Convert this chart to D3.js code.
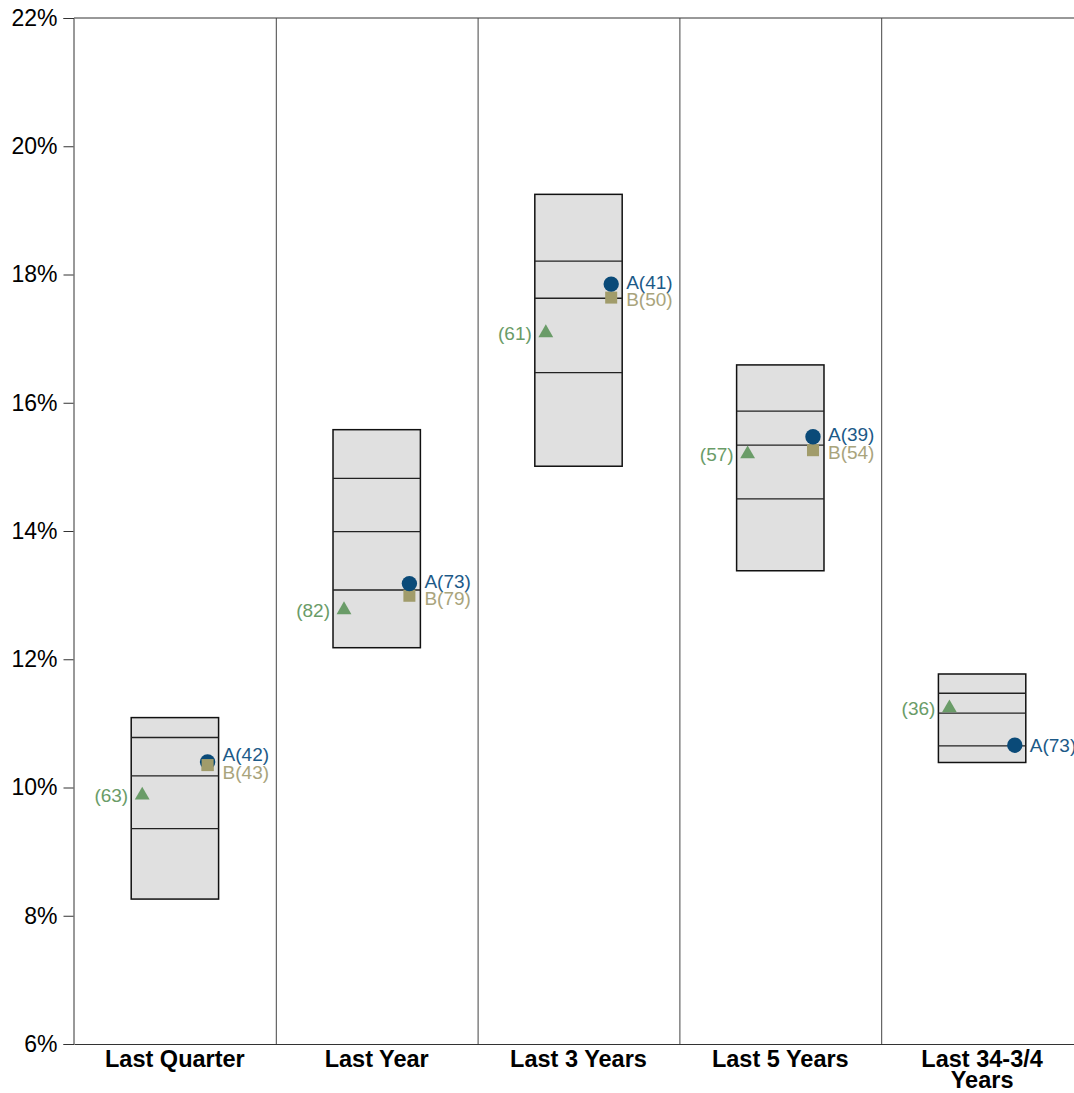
<!DOCTYPE html>
<html><head><meta charset="utf-8">
<script src="https://cdn.jsdelivr.net/npm/d3@7"></script>
<style>body{margin:0;background:#fff}svg{display:block;font-family:"Liberation Sans",Arial,sans-serif}</style>
</head><body><svg id="c" width="1074" height="1093"></svg>
<script>
const categories = ["Last Quarter","Last Year","Last 3 Years","Last 5 Years","Last 34-3/4 Years"];
const p95 = [11.09, 15.58, 19.25, 16.59, 11.77];
const p75 = [10.78, 14.82, 18.21, 15.87, 11.47];
const p50 = [10.18, 13.99, 17.63, 15.34, 11.16];
const p25 = [9.36, 13.08, 16.47, 14.50, 10.65];
const p05 = [8.26, 12.18, 15.01, 13.38, 10.39];
const seriesA = [10.40, 13.18, 17.85, 15.47, 10.66];
const rankA = [42, 73, 41, 39, 73];
const seriesB = [10.35, 12.99, 17.64, 15.26, null];
const rankB = [43, 79, 50, 54, null];
const seriesC = [9.88, 12.77, 17.09, 15.20, 11.24];
const rankC = [63, 82, 61, 57, 36];
const yTicks = [6, 8, 10, 12, 14, 16, 18, 20, 22];

const colA = "#0a4a78", colAt = "#1c5a88";
const colB = "#a19c6b", colBt = "#a9a47c";
const colC = "#6a9c68";

const svg = d3.select("#c");
const x = d3.scaleBand().domain(categories).range([74, 1083]).padding(0);
const y = d3.scaleLinear().domain([6, 22]).range([1044, 18]);
const bw = x.bandwidth();
const boxW = bw * 0.433;

// top border
svg.append("line").attr("x1", 74).attr("x2", 1083).attr("y1", y(22)).attr("y2", y(22))
  .attr("stroke", "#333").attr("stroke-width", 1);
// dividers
categories.slice(1).forEach(c => {
  svg.append("line").attr("x1", x(c)+0.5).attr("x2", x(c)+0.5).attr("y1", y(22)).attr("y2", y(6))
    .attr("stroke", "#444").attr("stroke-width", 1);
});

// boxes
categories.forEach((c, i) => {
  const cx = x(c) + bw/2;
  const g = svg.append("g");
  g.append("rect").attr("x", cx - boxW/2).attr("y", y(p95[i])).attr("width", boxW)
    .attr("height", y(p05[i]) - y(p95[i])).attr("fill", "#e0e0e0").attr("stroke", "#111").attr("stroke-width", 1.5);
  [p75[i], p50[i], p25[i]].forEach(v => {
    g.append("line").attr("x1", cx - boxW/2).attr("x2", cx + boxW/2).attr("y1", y(v)).attr("y2", y(v))
      .attr("stroke", "#222").attr("stroke-width", 1.3);
  });
});

// markers
categories.forEach((c, i) => {
  const cx = x(c) + bw/2;
  const xr = cx + boxW/2 - 11;
  const xl = cx - boxW/2 + 11;
  // triangle
  svg.append("path").attr("d", d3.symbol(d3.symbolTriangle, 95)())
    .attr("transform", `translate(${xl},${y(seriesC[i])})`).attr("fill", colC);
  svg.append("text").attr("x", xl - 14).attr("y", y(seriesC[i])).attr("dy", "0.35em")
    .attr("text-anchor", "end").attr("font-size", 19).attr("fill", colC).text(`(${rankC[i]})`);
  // A & B
  let ya = y(seriesA[i]);
  let yb = seriesB[i] != null ? y(seriesB[i]) : null;
  let la = ya, lb = yb;
  if (yb != null && (lb - la) < 17.5) {
    const m = (ya + yb) / 2;
    la = m - 8.75; lb = m + 8.75;
  }
  if (yb != null) {
    svg.append("rect").attr("x", xr - 6).attr("y", yb - 6).attr("width", 12).attr("height", 12).attr("fill", colB);
  }
  svg.append("circle").attr("cx", xr).attr("cy", ya).attr("r", 7.7).attr("fill", colA);
  if (yb != null) {
    // square drawn over lower half of circle in Q
    if (Math.abs(yb - ya) < 6) {
      svg.append("rect").attr("x", xr - 6).attr("y", yb - 6).attr("width", 12).attr("height", 12).attr("fill", colB);
    }
  }
  svg.append("text").attr("x", cx + boxW/2 + 4).attr("y", la).attr("dy", "0.35em")
    .attr("font-size", 19).attr("fill", colAt).text(`A(${rankA[i]})`);
  if (yb != null) {
    svg.append("text").attr("x", cx + boxW/2 + 4).attr("y", lb).attr("dy", "0.35em")
      .attr("font-size", 19).attr("fill", colBt).text(`B(${rankB[i]})`);
  }
});

// y axis
const ya = svg.append("g").attr("transform", "translate(73.5,0)")
  .call(d3.axisLeft(y).tickValues(yTicks).tickFormat(d => d + "%").tickSize(10).tickPadding(6));
ya.select(".domain").attr("stroke", "#333");
ya.selectAll(".tick line").attr("stroke", "#333");
ya.selectAll("text").attr("font-size", 23).attr("fill", "#000").attr("font-family", "'Liberation Sans',Arial,sans-serif");

// x axis
const xa = svg.append("g").attr("transform", `translate(0,${y(6)})`)
  .call(d3.axisBottom(x).tickSize(0).tickPadding(0));
xa.select(".domain").attr("stroke", "#333");
xa.selectAll(".tick text").remove();
categories.forEach(c => {
  const t = svg.append("text").attr("x", x(c) + bw/2).attr("y", 1066.5).attr("text-anchor", "middle")
    .attr("font-size", 23.5).attr("font-weight", "bold").attr("fill", "#000");
  const words = c.split(" ");
  let line = [], lines = [];
  const tmp = t.append("tspan");
  words.forEach(w => {
    const test = line.concat([w]).join(" ");
    tmp.text(test);
    if (tmp.node().getComputedTextLength() > 165 && line.length) { lines.push(line.join(" ")); line = [w]; }
    else line.push(w);
  });
  lines.push(line.join(" "));
  tmp.remove();
  lines.forEach((l, k) => t.append("tspan").attr("x", x(c) + bw/2).attr("dy", k ? 21 : 0).text(l));
});
</script></body></html>
